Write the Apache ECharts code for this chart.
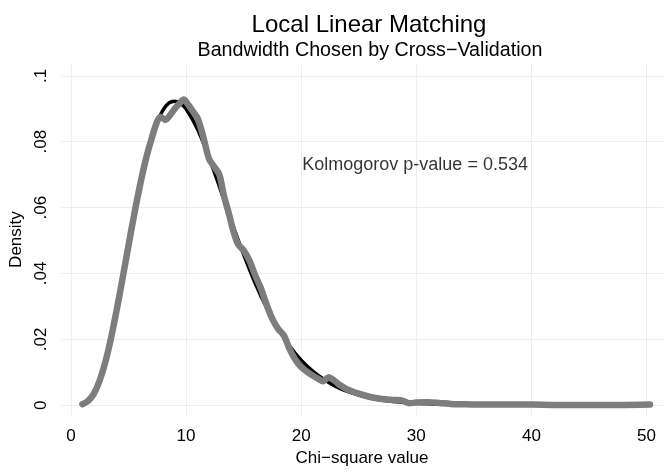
<!DOCTYPE html>
<html>
<head>
<meta charset="utf-8">
<title>Local Linear Matching</title>
<script src="https://cdn.jsdelivr.net/npm/echarts@6/dist/echarts.min.js"></script>
<style>
    html, body { margin: 0; padding: 0; background: #fff; }
    #main { width: 671px; height: 472px; }
</style>
</head>
<body>
<div id="main"></div>
<script>
// chi-square reference density (black line)
var blackX = [1, 1.5, 2, 2.5, 3, 3.5, 4, 4.5, 5, 5.5, 6, 6.5, 7, 7.5, 8, 8.5, 9, 9.5, 10,
    11, 12, 13, 14, 15, 16, 17, 18, 19, 20, 21, 22, 23, 24, 26, 28, 30, 32, 35, 40, 45, 50];
var blackY = [0.0003, 0.0012, 0.0035, 0.0075, 0.0132, 0.0206, 0.0293, 0.0387, 0.0484, 0.0579,
    0.0667, 0.0745, 0.0810, 0.0860, 0.0896, 0.0917, 0.0923, 0.0917, 0.0900,
    0.0838, 0.0752, 0.0654, 0.0553, 0.0458, 0.0371, 0.0296, 0.0232, 0.0180, 0.0137, 0.0104,
    0.0078, 0.0057, 0.0042, 0.0022, 0.0011, 0.0006, 0.0003, 0.0001, 0.0000, 0.0000, 0.0000];

// estimated density of the matched values (grey circles)
var grayX = [1.0, 1.5, 2.0, 2.5, 3.0, 3.5, 4.0, 4.5, 5.0, 5.5, 6.0, 6.5, 7.0, 7.5, 7.8,
    8.2, 8.6, 9.0, 9.4, 9.8, 10.2, 10.6, 11.0, 11.5, 12.0, 12.5, 12.9, 13.3, 13.7, 14.1,
    14.5, 15.0, 15.5, 16.0, 16.5, 17.0, 17.5, 18.0, 18.5, 19.0, 19.5, 20.0, 20.5, 21.0,
    21.5, 21.9, 22.4, 22.8, 23.3, 24.0, 25.0, 26.0, 27.0, 28.0, 28.8, 29.4, 30.0, 31.0,
    32.0, 33.0, 34.0, 35.0, 36.0, 38.0, 40.0, 42.0, 44.0, 46.0, 48.0, 50.3];
var grayY = [0.0003, 0.0013, 0.0035, 0.0075, 0.0132, 0.0206, 0.0293, 0.0387, 0.0484, 0.0579,
    0.0667, 0.0745, 0.0808, 0.0862, 0.0876,
    0.0866, 0.0880, 0.0899, 0.0915, 0.0928, 0.0912, 0.0892, 0.0872, 0.0815, 0.0748,
    0.0722, 0.0700, 0.0635, 0.0585, 0.0530,
    0.0490, 0.0470, 0.0440, 0.0395, 0.0355, 0.0305, 0.0262, 0.0232, 0.0212, 0.0170,
    0.0138, 0.0116, 0.0102, 0.0090,
    0.0080, 0.0073, 0.0085, 0.0077, 0.0063, 0.0048, 0.0035, 0.0025, 0.0019, 0.0016,
    0.0014, 0.0006, 0.0008, 0.0009,
    0.0007, 0.0004, 0.0003, 0.0002, 0.0002, 0.0002, 0.0002, 0.0001, 0.0001, 0.0001, 0.0001, 0.0002];

// ticks
var xTicks = [0, 10, 20, 30, 40, 50];
var yTicks = [0, 0.02, 0.04, 0.06, 0.08, 0.1];
var yTickLabels = ['0', '.02', '.04', '.06', '.08', '.1'];

// annotation
var noteX = [20.1];
var noteY = [0.0730];
var noteText = ['Kolmogorov p-value = 0.534'];

var font = '"Liberation Sans", Arial, Helvetica, sans-serif';
var gridColor = '#e8f0f1';

function pairs(xs, ys) {
    var out = [];
    for (var i = 0; i < xs.length; i++) {
        out.push([xs[i], ys[i]]);
    }
    return out;
}

var chart = echarts.init(document.getElementById('main'), null, { renderer: 'canvas' });

chart.setOption({
    backgroundColor: '#fff',
    animation: false,
    title: [{
        text: 'Local Linear Matching',
        left: 364,
        top: 8,
        textAlign: 'center',
        textStyle: { fontFamily: font, fontSize: 24, fontWeight: 'normal', color: '#000' }
    }, {
        text: 'Bandwidth Chosen by Cross\u2212Validation',
        left: 365,
        top: 36,
        textAlign: 'center',
        textStyle: { fontFamily: font, fontSize: 19.7, fontWeight: 'normal', color: '#000' }
    }],
    grid: { left: 60, right: 8, top: 64, bottom: 49 },
    xAxis: {
        type: 'value',
        min: -0.867,
        max: 51.43,
        name: 'Chi\u2212square value',
        nameLocation: 'middle',
        nameGap: 29,
        nameTextStyle: { fontFamily: font, fontSize: 17, color: '#000' },
        axisLine: { show: false },
        axisTick: { show: false, customValues: xTicks },
        axisLabel: {
            customValues: xTicks,
            margin: 13,
            fontFamily: font,
            fontSize: 17,
            color: '#000'
        },
        splitLine: { show: true, lineStyle: { color: gridColor, width: 1 } }
    },
    yAxis: {
        type: 'value',
        min: -0.003,
        max: 0.1036,
        name: 'Density',
        nameLocation: 'middle',
        nameGap: 30,
        nameTextStyle: { fontFamily: font, fontSize: 17, color: '#000' },
        axisLine: { show: false },
        axisTick: { show: false, customValues: yTicks },
        axisLabel: {
            customValues: yTicks,
            rotate: 90,
            margin: 11,
            fontFamily: font,
            fontSize: 17,
            color: '#000',
            formatter: function (v) {
                for (var i = 0; i < yTicks.length; i++) {
                    if (Math.abs(yTicks[i] - v) < 1e-9) return yTickLabels[i];
                }
                return '';
            }
        },
        splitLine: { show: true, lineStyle: { color: gridColor, width: 1 } }
    },
    series: [{
        name: 'chi2',
        type: 'line',
        data: pairs(blackX, blackY),
        smooth: 0.3,
        showSymbol: false,
        lineStyle: { color: '#000', width: 3.5 },
        z: 2
    }, {
        name: 'matched',
        type: 'line',
        data: pairs(grayX, grayY),
        smooth: 0.3,
        showSymbol: false,
        lineStyle: { color: '#7d7d7d', width: 6.5, cap: 'round', join: 'round' },
        z: 3
    }, {
        name: 'note',
        type: 'scatter',
        data: pairs(noteX, noteY),
        symbolSize: 0,
        silent: true,
        label: {
            show: true,
            position: 'right',
            distance: 0,
            fontFamily: font,
            fontSize: 18,
            color: '#000',
            formatter: function (p) { return noteText[p.dataIndex]; }
        },
        z: 4
    }]
});
</script>
</body>
</html>
